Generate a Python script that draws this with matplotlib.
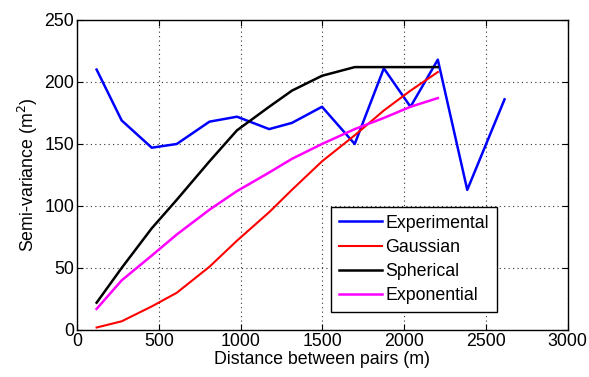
import matplotlib
matplotlib.use("Agg")
import matplotlib.pyplot as plt

plt.rcParams['font.family'] = ['Liberation Sans', 'DejaVu Sans']

lags_exp = [120, 273, 457, 610, 810, 978, 1175, 1314, 1498, 1698, 1876, 2039, 2206, 2386, 2614]
experimental = [210, 169, 147, 150, 168, 172, 162, 167, 180, 150, 211, 180, 218, 113, 186]

lags_model = [120, 273, 457, 610, 810, 978, 1175, 1314, 1498, 1698, 1876, 2039, 2206]
gaussian = [2, 7, 19, 30, 51, 72, 95, 113, 136, 157, 177, 193, 208]
spherical = [22, 50, 82, 105, 136, 161, 180, 193, 205, 212, 212, 212, 212]
exponential = [17, 40, 60, 77, 97, 112, 127, 138, 150, 162, 171, 180, 187]

xticks = [0, 500, 1000, 1500, 2000, 2500, 3000]
yticks = [0, 50, 100, 150, 200, 250]

FS = 12.8

fig = plt.figure(figsize=(5.89, 3.77), dpi=100)
ax = fig.add_axes([0.1307, 0.1247, 0.8331, 0.8223])

ax.plot(lags_exp, experimental, color='#0000ff', lw=1.8, label='Experimental')
ax.plot(lags_model, gaussian, color='#ff0000', lw=1.5, label='Gaussian')
ax.plot(lags_model, spherical, color='black', lw=1.8, label='Spherical')
ax.plot(lags_model, exponential, color='#ff00ff', lw=1.8, label='Exponential')

ax.set_xlim(0, 3000)
ax.set_ylim(0, 250)
ax.set_xticks(xticks)
ax.set_yticks(yticks)
ax.tick_params(direction='in', top=True, right=True, labelsize=FS, length=4, pad=2)
ax.grid(True, linestyle=(0, (1, 3)), color='#333333', linewidth=0.8)
ax.set_xlabel('Distance between pairs (m)', fontsize=FS, labelpad=1)
ax.set_ylabel('Semi-variance (m$^2$)', fontsize=FS, labelpad=3)
for s in ax.spines.values():
    s.set_linewidth(1.0)

leg = ax.legend(loc='lower left', bbox_to_anchor=(0.518, 0.058), fontsize=FS,
                frameon=True, fancybox=False, edgecolor='black', framealpha=1,
                handlelength=2.4, handletextpad=0.2, borderpad=0.45, labelspacing=0.4,
                borderaxespad=0)
leg.get_frame().set_linewidth(1.0)

fig.savefig('out.png', dpi=100)
